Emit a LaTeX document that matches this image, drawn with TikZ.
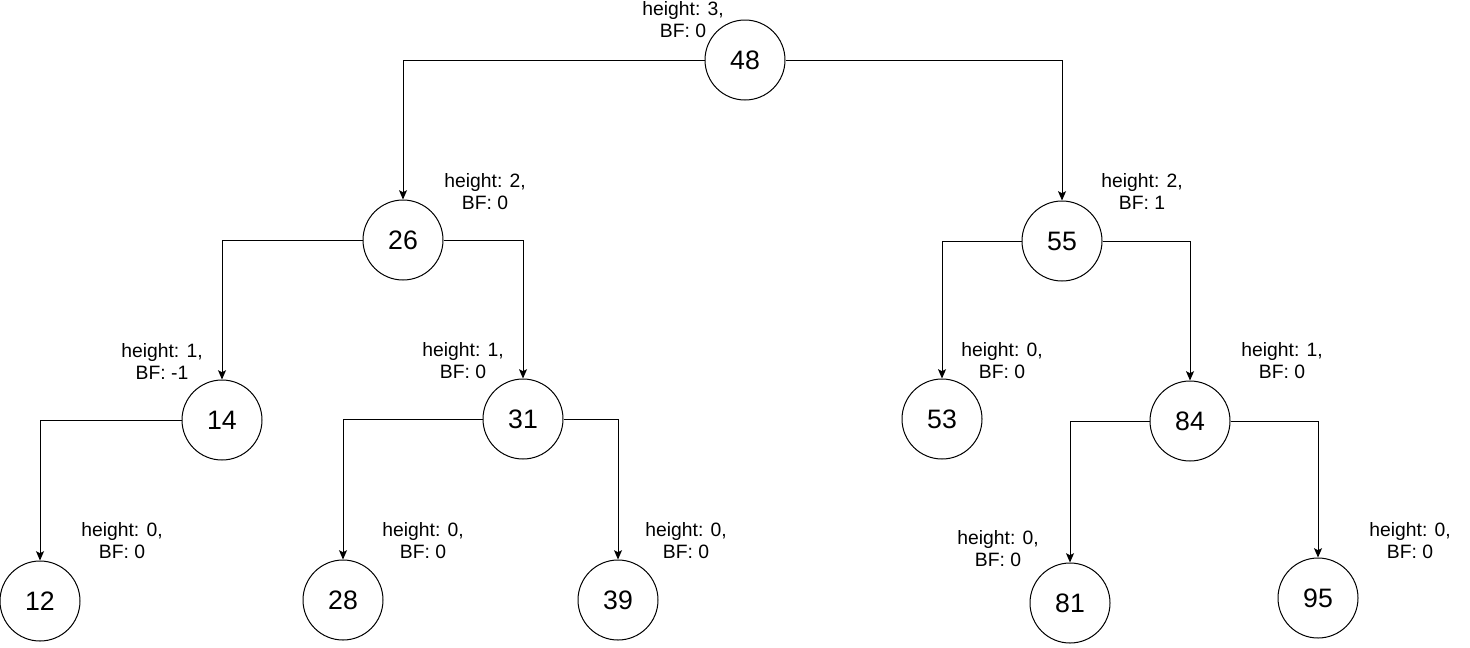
\documentclass[tikz,border=0pt]{standalone}
\usepackage{fontspec}
\setmainfont{Liberation Sans}
\usetikzlibrary{arrows.meta}
\begin{document}
\begin{tikzpicture}[x=0.75pt,y=-0.75pt,
  key/.style={draw,circle,minimum size=60pt,inner sep=0pt,line width=0.75pt,font=\fontsize{20}{24}\selectfont},
  info/.style={align=center,inner sep=0pt,font=\fontsize{14.5}{16.5}\selectfont},
  arr/.style={-{Stealth[length=7pt,width=6pt,inset=1.5pt]},line width=0.75pt}]
\useasboundingbox (0,0) rectangle (1470,647);
% keys
\foreach \k/\x/\y in {48/745/60,26/403/240,55/1062/241,14/222/420,31/523/419,
  53/942/419,84/1190/421,12/40/601,28/343/600,39/618/600,81/1070/603,95/1318/598}
  \node[key] (n\k) at (\x,\y) {\k};
% height and balance factor
\foreach \k/\x/\y/\h/\b in {48/683/20/3/0,26/485/192/2/0,55/1142/191/2/1,14/162/361/1/-1,
  31/463/361/1/0,53/1002/361/0/0,84/1282/361/1/0,12/122/541/0/0,28/423/541/0/0,
  39/686/541/0/0,81/998/549/0/0,95/1410/541/0/0}
  \node[info] (i\k) at (\x,\y) {height: \h,\\BF: \b};
% left children
\foreach \p/\c in {48/26,26/14,14/12,31/28,55/53,84/81}
  \draw[arr] (n\p.west) -| (n\c.north);
% right children
\foreach \p/\c in {48/55,26/31,31/39,55/84,84/95}
  \draw[arr] (n\p.east) -| (n\c.north);
\end{tikzpicture}
\end{document}
